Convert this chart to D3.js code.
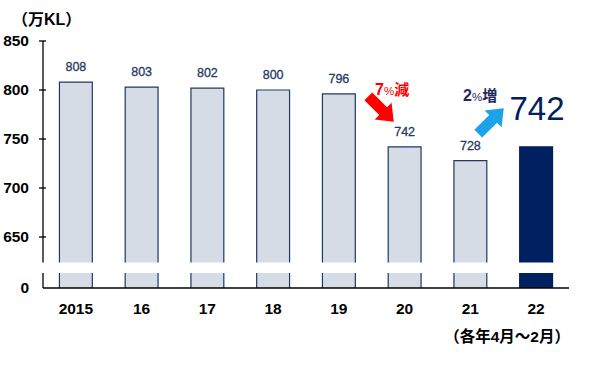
<!DOCTYPE html>
<html><head><meta charset="utf-8">
<script src="https://cdn.jsdelivr.net/npm/d3@7"></script>
<style>
body{margin:0;background:#fff;}
svg{display:block;font-family:"Liberation Sans","Noto Sans CJK JP",sans-serif;}
</style></head>
<body><svg id="c" width="606" height="371"></svg>
<script>
const categories = ["2015","16","17","18","19","20","21","22"];
const values = [808,803,802,800,796,742,728,742];
const yTicks = [650,700,750,800,850];
const unitLabel = "（万KL）";
const periodNote = "（各年4月～2月）";
const decreaseNote = {num:"7", pct:"%", word:"減"};
const increaseNote = {num:"2", pct:"%", word:"増"};
const highlightLabel = "742";

const svg = d3.select("#c");
const left = 43, right = 569;
const breakTop = 262.5, breakBottom = 273, base = 288;

const x = d3.scaleBand().domain(categories).range([left, right]).paddingInner(0.5).paddingOuter(0.25);
const y = d3.scaleLinear().domain([650, 850]).range([237, 41]);

const navy = "#1F3864";
const bars = svg.append("g");
categories.forEach((c, i) => {
  const last = i === categories.length - 1;
  const fill = last ? "#002060" : "#D6DCE5";
  const stroke = last ? "#002060" : navy;
  const bx = x(c), bw = x.bandwidth();
  const top = y(values[i]);
  bars.append("rect").attr("x", bx).attr("y", top).attr("width", bw).attr("height", breakTop - top).attr("fill", fill);
  bars.append("path").attr("d", `M${bx},${breakTop}V${top}H${bx+bw}V${breakTop}`).attr("fill","none").attr("stroke",stroke).attr("stroke-width",1.2);
  bars.append("rect").attr("x", bx).attr("y", breakBottom).attr("width", bw).attr("height", base - breakBottom).attr("fill", fill);
  bars.append("path").attr("d", `M${bx},${breakBottom}V${base}M${bx+bw},${breakBottom}V${base}`).attr("fill","none").attr("stroke",stroke).attr("stroke-width",1.2);
  if (!last) {
    svg.append("text").attr("x", bx + bw/2).attr("y", top - 11).attr("text-anchor","middle")
      .attr("font-size", 12.5).attr("fill", navy).attr("stroke", navy).attr("stroke-width", 0.3).text(values[i]);
  }
});

const ax = svg.append("g").attr("stroke","#000").attr("stroke-width",1.3);
ax.append("line").attr("x1",left).attr("x2",left).attr("y1",y(850)).attr("y2",breakTop);
ax.append("line").attr("x1",left).attr("x2",left).attr("y1",breakBottom).attr("y2",base);
ax.append("line").attr("x1",left).attr("x2",right).attr("y1",base).attr("y2",base);
yTicks.forEach(t => {
  ax.append("line").attr("x1",left-4).attr("x2",left+3).attr("y1",y(t)).attr("y2",y(t));
  svg.append("text").attr("x",29).attr("y",y(t)).attr("dy","0.35em").attr("text-anchor","end")
    .attr("font-size",15.5).attr("font-weight","bold").text(t);
});
svg.append("text").attr("x",29).attr("y",base).attr("dy","0.35em").attr("text-anchor","end")
  .attr("font-size",15.5).attr("font-weight","bold").text("0");

categories.forEach(c => {
  svg.append("text").attr("x", x(c) + x.bandwidth()/2).attr("y", 314).attr("text-anchor","middle")
    .attr("font-size",15.5).attr("font-weight","bold").text(c);
});

svg.append("text").attr("x",12).attr("y",25).attr("font-size",16).attr("font-weight","bold").text(unitLabel);
svg.append("text").attr("x",570).attr("y",342).attr("text-anchor","end").attr("font-size",15.5).attr("font-weight","bold").text(periodNote);

function arrow(cx, cy, angle, color) {
  const L = 36, sw = 11, hw = 24, hl = 15;
  const pts = [[-L/2,-sw/2],[L/2-hl,-sw/2],[L/2-hl,-hw/2],[L/2,0],[L/2-hl,hw/2],[L/2-hl,sw/2],[-L/2,sw/2]];
  svg.append("polygon").attr("points", pts.map(p=>p.join(",")).join(" "))
    .attr("transform", `translate(${cx},${cy}) rotate(${angle})`).attr("fill", color);
}
arrow(381, 109, 45, "#FF0000");
arrow(491, 121, -45, "#1AA3E8");

function note(xp, yp, n, color) {
  const t = svg.append("text").attr("x", xp).attr("y", yp).attr("fill", color).attr("font-weight","bold");
  t.append("tspan").attr("font-size",16).text(n.num);
  t.append("tspan").attr("font-size",11.5).attr("font-weight","normal").text(n.pct);
  t.append("tspan").attr("font-size",15).text(n.word);
}
note(375, 95, decreaseNote, "#FF0000");
note(463, 101, increaseNote, "#1F2A5A");

svg.append("text").attr("x", 537).attr("y", 120).attr("text-anchor","middle")
  .attr("font-size",33).attr("fill","#002060").text(highlightLabel);
</script></body></html>
